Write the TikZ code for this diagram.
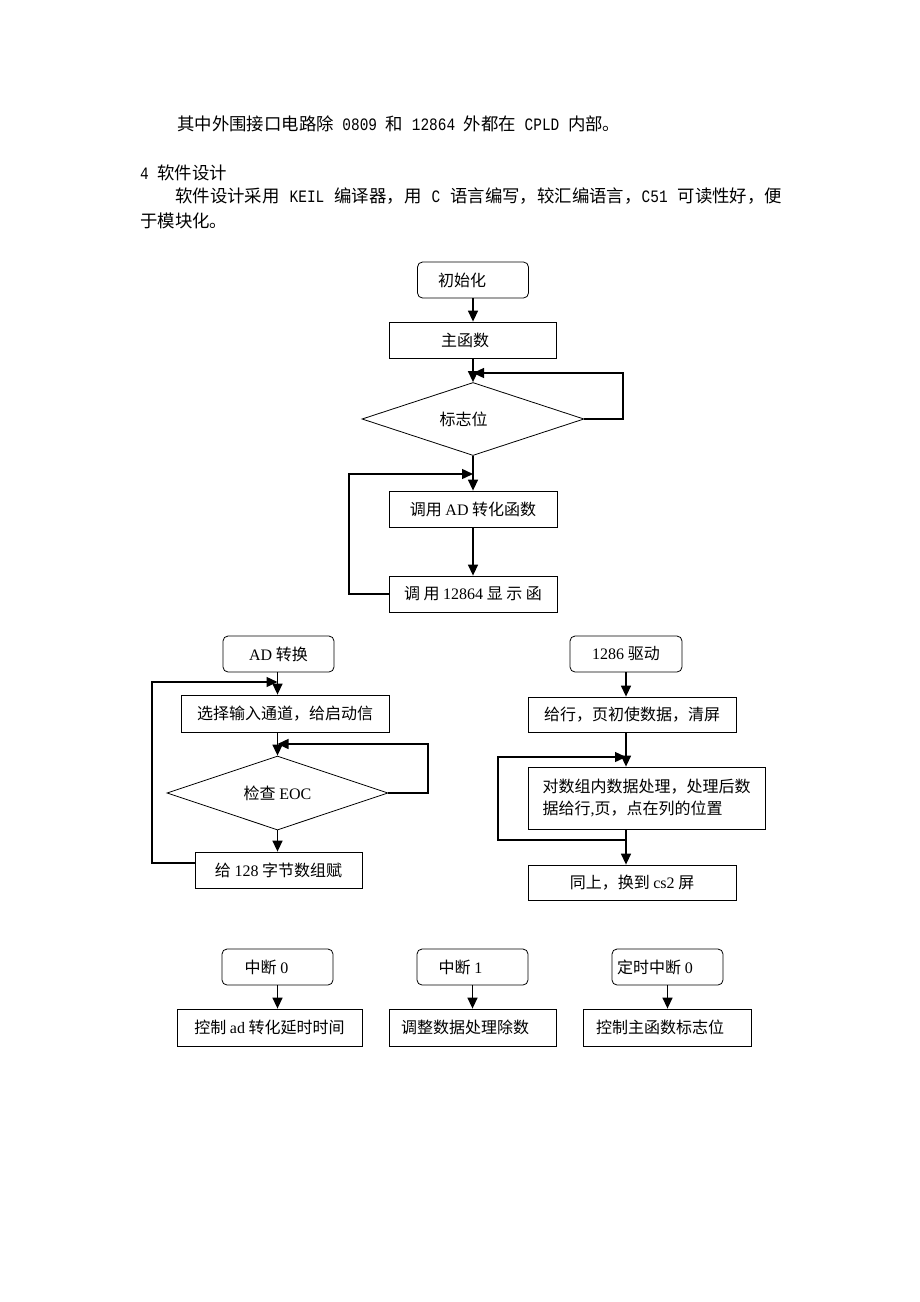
\documentclass[tikz,border=0pt]{standalone}
\usepackage{fontspec}
\setmainfont{Noto Sans CJK SC}
\newfontfamily\tms{Liberation Serif}
\newfontfamily\mono{Liberation Mono}[FakeStretch=0.83]
\usetikzlibrary{shapes.geometric,arrows.meta,positioning}
\XeTeXlinebreaklocale "zh"
\XeTeXlinebreakskip=0pt plus 1pt

\tikzset{
  startbox/.style={draw,rounded corners=5pt,line width=0.8pt,minimum width=111pt,minimum height=36pt,inner sep=2pt,font=\fontsize{16}{22}\selectfont},
  procbox/.style={draw,line width=0.8pt,minimum height=36pt,inner sep=2pt,font=\fontsize{16}{22}\selectfont},
  testbox/.style={draw,diamond,aspect=3,line width=0.8pt,minimum width=222pt,minimum height=73pt,inner sep=0pt,font=\fontsize{16}{22}\selectfont},
  flowline/.style={line width=1.4pt,-{Triangle[length=11pt,width=10pt]}},
  para/.style={anchor=west,inner sep=0pt,font=\fontsize{17.4}{20}\selectfont}
}

\begin{document}
\begin{tikzpicture}[x=1pt,y=-1pt]
  \useasboundingbox (0,0) rectangle (920,1302);

  % text above the charts
  \node[para] (p1) at (177,124) {其中外围接口电路除{\mono\ 0809\ }和{\mono\ 12864\ }外都在{\mono\ CPLD\ }内部。};
  \node[para] (p2) at (140,173) {{\mono 4\ }软件设计};
  \node[para] (p3) at (175,196) {\makebox[607pt][s]{软件设计采用{\mono\ KEIL\ }编译器，用{\mono\ C\ }语言编写，较汇编语言，{\mono C51\ }可读性好，便}};
  \node[para] (p4) at (140,221) {于模块化。};

  % main program
  \node[startbox] (init) at (473,280) {初始化\hspace*{22pt}};
  \node[procbox,minimum width=167pt] (mainfn) at (472.5,340) {主函数\hspace*{15pt}};
  \node[testbox] (flag) at (473,419) {标志位\hspace*{19pt}};
  \node[procbox,minimum width=168pt] (callad) at (473,509) {调用 {\tms AD} 转化函数};
  \node[procbox,minimum width=168pt] (calllcd) at (473,594) {调 用 {\tms 12864} 显 示 函};
  \coordinate (flagret) at (623,373);
  \coordinate (lcdret) at (349,474);

  \draw[flowline] (init.south) -- (init.south |- mainfn.north);
  \draw[flowline] (mainfn.south -| flag.north) -- (flag.north);
  \draw[flowline] (flag.east) -| (flagret) -- (flag.north |- flagret);
  \draw[flowline] (flag.south) -- (flag.south |- callad.north);
  \draw[flowline] (callad.south) -- (calllcd.north);
  \draw[flowline] (calllcd.west) -| (lcdret) -- (callad.north |- lcdret);

  % AD conversion
  \node[startbox] (adconv) at (278.5,654) {{\tms AD} 转换};
  \node[procbox,minimum width=208pt,minimum height=37pt] (selch) at (285,713.5) {选择输入通道，给启动信};
  \node[testbox,minimum width=221pt,minimum height=74pt] (eoc) at (277.5,793) {检查 {\tms EOC}};
  \node[procbox,minimum width=167pt] (fillbuf) at (278.5,870) {给 {\tms 128} 字节数组赋};
  \coordinate (eocret) at (428,744);
  \coordinate (adout) at (195,863);
  \coordinate (adret) at (152,682);

  \draw[flowline] (eoc.north |- adconv.south) -- (eoc.north |- selch.north);
  \draw[flowline] (eoc.north |- selch.south) -- (eoc.north);
  \draw[flowline] (eoc.east) -| (eocret) -- (eoc.north |- eocret);
  \draw[flowline] (eoc.south) -- (eoc.south |- fillbuf.north);
  \draw[flowline] (adout) -| (adret) -- (eoc.north |- adret);

  % 1286 driver
  \node[startbox,minimum width=112pt] (drv) at (626,654) {{\tms 1286} 驱动};
  \node[procbox,minimum width=208pt,minimum height=35pt] (drvinit) at (632,714.5) {给行，页初使数据，清屏};
  \node[procbox,minimum width=237pt,minimum height=62pt,align=left] (dataproc) at (646.5,798) {对数组内数据处理，处理后数\\据给行{\tms ,}页，点在列的位置};
  \node[procbox,minimum width=208pt,minimum height=35pt] (same) at (632,882.5) {同上，换到 {\tms cs2} 屏};
  \coordinate (procout) at (626,840);
  \coordinate (procret) at (498,757);

  \draw[flowline] (drv.south) -- (drv.south |- drvinit.north);
  \draw[flowline] (drv.south |- drvinit.south) -- (drv.south |- dataproc.north);
  \draw[flowline] (drv.south |- dataproc.south) -- (drv.south |- same.north);
  \draw[flowline] (procout) -| (procret) -- (drv.south |- procret);

  % interrupts
  \node[startbox] (intz) at (277.5,967) {中断 {\tms 0}\hspace*{22pt}};
  \node[procbox,minimum width=185pt,minimum height=37pt] (delay) at (269.5,1027.5) {控制 {\tms ad} 转化延时时间};
  \node[startbox] (into) at (472.5,967) {中断 {\tms 1}\hspace*{24pt}};
  \node[procbox,minimum width=167pt,minimum height=37pt] (divisor) at (472.5,1027.5) {调整数据处理除数\hspace*{15pt}};
  \node[startbox] (timer) at (667.5,967) {定时中断 {\tms 0}\hspace*{25pt}};
  \node[procbox,minimum width=168pt,minimum height=37pt] (flagset) at (667,1027.5) {控制主函数标志位\hspace*{14pt}};

  \draw[flowline] (intz.south) -- (intz.south |- delay.north);
  \draw[flowline] (into.south) -- (into.south |- divisor.north);
  \draw[flowline] (timer.south) -- (timer.south |- flagset.north);
\end{tikzpicture}
\end{document}
